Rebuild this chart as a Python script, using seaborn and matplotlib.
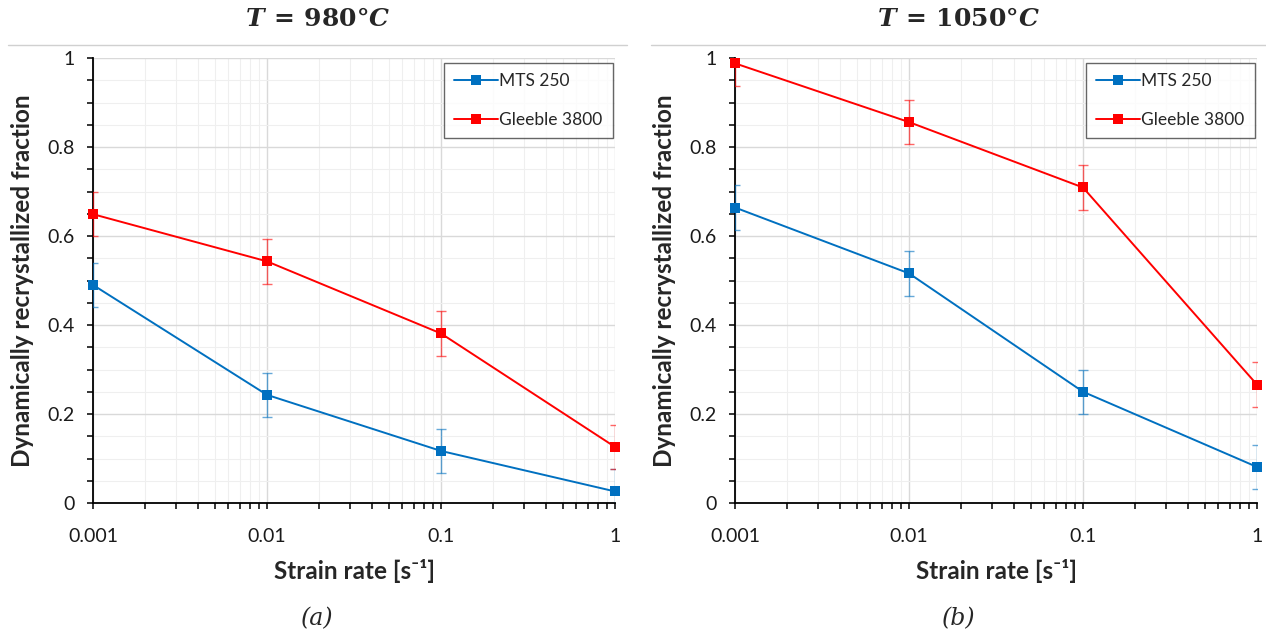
import numpy as np
import pandas as pd
import matplotlib
matplotlib.use('Agg')
import matplotlib.pyplot as plt
import matplotlib.ticker as mticker
import seaborn as sns

strain_rate = [0.001, 0.01, 0.1, 1]

mts_980 = [0.49, 0.243, 0.117, 0.026]
gleeble_980 = [0.649, 0.543, 0.381, 0.126]
mts_1050 = [0.664, 0.516, 0.250, 0.081]
gleeble_1050 = [0.988, 0.856, 0.709, 0.266]
err = 0.05

titles = ['$T\\,=\\,980°C$', '$T\\,=\\,1050°C$']
captions = ['(a)', '(b)']
series_names = ['MTS 250', 'Gleeble 3800']
colors = {'MTS 250': '#0070C0', 'Gleeble 3800': '#FF0000'}

sns.set_theme(style='white')
plt.rcParams['font.family'] = ['Lato', 'DejaVu Sans']
plt.rcParams['mathtext.fontset'] = 'custom'
plt.rcParams['mathtext.rm'] = 'DejaVu Serif:bold'
plt.rcParams['mathtext.it'] = 'DejaVu Serif:italic:bold'

fig = plt.figure(figsize=(12.66, 6.37), dpi=100)
panels = [(mts_980, gleeble_980), (mts_1050, gleeble_1050)]
lefts = [93 / 1266, 735 / 1266]
line_spans = [(8, 627), (651, 1266)]

for i, (mts, gle) in enumerate(panels):
    ax = fig.add_axes([lefts[i], 1 - 503 / 637, 522 / 1266, 445 / 637])
    df = pd.DataFrame({
        'rate': strain_rate * 2,
        'frac': mts + gle,
        'machine': [series_names[0]] * 4 + [series_names[1]] * 4,
    })
    for name, vals in zip(series_names, [mts, gle]):
        ax.errorbar(strain_rate, vals, yerr=err, fmt='none', ecolor=colors[name],
                    alpha=0.6, elinewidth=1.0, capsize=3.5, capthick=1.0, zorder=3)
    sns.lineplot(data=df, x='rate', y='frac', hue='machine', palette=colors,
                 marker='s', markersize=7, markeredgewidth=0, linewidth=1.4,
                 ax=ax, zorder=4, clip_on=False)
    ax.set_xscale('log')
    ax.set_xlim(0.001, 1)
    ax.set_ylim(0, 1)
    ax.xaxis.set_major_locator(mticker.LogLocator(base=10))
    ax.xaxis.set_minor_locator(mticker.LogLocator(base=10, subs=np.arange(2, 10)))
    ax.xaxis.set_major_formatter(mticker.FuncFormatter(lambda v, p: f'{v:g}'))
    ax.xaxis.set_minor_formatter(mticker.NullFormatter())
    ax.yaxis.set_major_locator(mticker.MultipleLocator(0.2))
    ax.yaxis.set_minor_locator(mticker.MultipleLocator(0.05))
    ax.yaxis.set_major_formatter(mticker.FuncFormatter(lambda v, p: f'{v:g}'))
    ax.grid(which='major', color='#d9d9d9', linewidth=1.0)
    ax.grid(which='minor', color='#efefef', linewidth=0.8)
    ax.set_axisbelow(True)
    for s in ['top', 'right']:
        ax.spines[s].set_visible(False)
    for s in ['left', 'bottom']:
        ax.spines[s].set_color('black')
        ax.spines[s].set_linewidth(1.3)
    ax.tick_params(which='both', direction='out', length=4, width=1.1, color='black',
                   left=True, bottom=True)
    ax.tick_params(which='major', labelsize=14, labelcolor='#1a1a1a')
    ax.tick_params(axis='x', which='major', pad=14)
    ax.tick_params(axis='y', which='major', pad=9)
    ax.set_xlabel('Strain rate [s⁻¹]', fontsize=17.5, fontweight='bold', labelpad=10)
    ax.set_ylabel('Dynamically recrystallized fraction', fontsize=17.5, fontweight='bold',
                  labelpad=10)
    handles, labels = ax.get_legend_handles_labels()
    leg = ax.legend(handles, labels, loc='upper right', fontsize=12.5, frameon=True,
                    fancybox=False, edgecolor='#404040', borderpad=0.6,
                    labelspacing=1.3, handlelength=2.5, handletextpad=0.1,
                    bbox_to_anchor=(0.996, 0.989), borderaxespad=0)
    leg.get_frame().set_linewidth(1.0)

    x0, x1 = line_spans[i]
    fig.add_artist(plt.Line2D([x0 / 1266, x1 / 1266], [1 - 45 / 637] * 2,
                              color='#d0d0d0', linewidth=1.0))
    cx = (x0 + x1) / 2 / 1266
    fig.text(cx, 1 - 18 / 637, titles[i], ha='center', va='center', fontsize=18)
    fig.text(cx, 1 - 619 / 637, captions[i], ha='center', va='center', fontsize=17,
             family='DejaVu Serif', style='italic')

fig.savefig('out.png', dpi=100)
